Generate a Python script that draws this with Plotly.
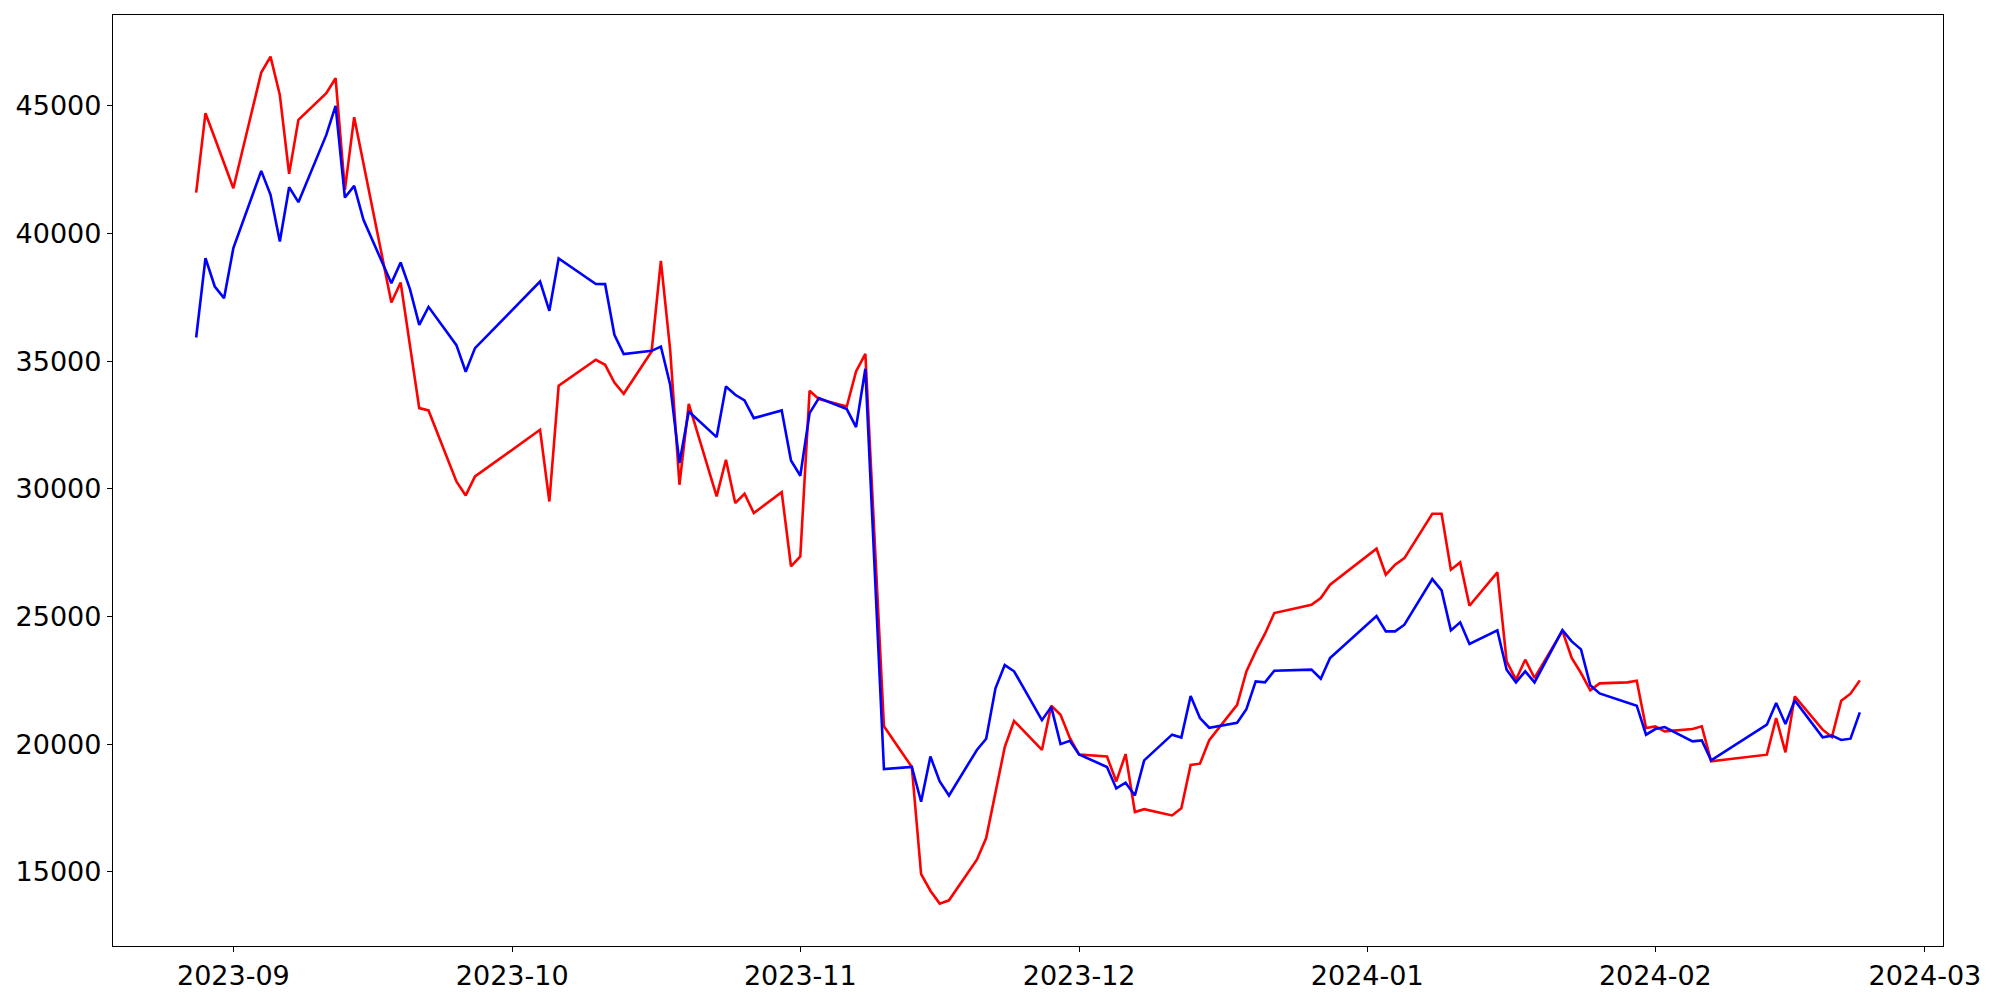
import plotly.graph_objects as go

dates = [
    "2023-08-28", "2023-08-29", "2023-08-30", "2023-08-31", "2023-09-01",
    "2023-09-04", "2023-09-05", "2023-09-06", "2023-09-07", "2023-09-08",
    "2023-09-11", "2023-09-12", "2023-09-13", "2023-09-14", "2023-09-15",
    "2023-09-18", "2023-09-19", "2023-09-20", "2023-09-21", "2023-09-22",
    "2023-09-25", "2023-09-26", "2023-09-27",
    "2023-10-04", "2023-10-05", "2023-10-06",
    "2023-10-10", "2023-10-11", "2023-10-12", "2023-10-13",
    "2023-10-16", "2023-10-17", "2023-10-18", "2023-10-19", "2023-10-20",
    "2023-10-23", "2023-10-24", "2023-10-25", "2023-10-26", "2023-10-27",
    "2023-10-30", "2023-10-31", "2023-11-01", "2023-11-02", "2023-11-03",
    "2023-11-06", "2023-11-07", "2023-11-08", "2023-11-10",
    "2023-11-13", "2023-11-14", "2023-11-15", "2023-11-16", "2023-11-17",
    "2023-11-20", "2023-11-21", "2023-11-22", "2023-11-23", "2023-11-24",
    "2023-11-27", "2023-11-28", "2023-11-29", "2023-11-30", "2023-12-01",
    "2023-12-04", "2023-12-05", "2023-12-06", "2023-12-07", "2023-12-08",
    "2023-12-11", "2023-12-12", "2023-12-13", "2023-12-14", "2023-12-15",
    "2023-12-18", "2023-12-19", "2023-12-20", "2023-12-21", "2023-12-22",
    "2023-12-26", "2023-12-27", "2023-12-28",
    "2024-01-02", "2024-01-03", "2024-01-04", "2024-01-05",
    "2024-01-08", "2024-01-09", "2024-01-10", "2024-01-11", "2024-01-12",
    "2024-01-15", "2024-01-16", "2024-01-17", "2024-01-18", "2024-01-19",
    "2024-01-22", "2024-01-23", "2024-01-24", "2024-01-25", "2024-01-26",
    "2024-01-29", "2024-01-30", "2024-01-31", "2024-02-01", "2024-02-02",
    "2024-02-05", "2024-02-06", "2024-02-07",
    "2024-02-13", "2024-02-14", "2024-02-15", "2024-02-16",
    "2024-02-19", "2024-02-20", "2024-02-21", "2024-02-22", "2024-02-23",
]

red_values = [
    41606, 44714, 43740, 42760, 41777,
    46304, 46931, 45431, 42338, 44452,
    45497, 46084, 41711, 44557, 42742,
    37300, 38083, 35710, 33164, 33072,
    30292, 29744, 30487,
    32315, 29508, 34038,
    35056, 34860, 34168, 33725,
    35381, 38932, 35447, 30162, 33333,
    29705, 31141, 29445, 29810, 29054,
    29875, 26964, 27356, 33842, 33517,
    33228, 34598, 35291, 20700,
    19110, 14910, 14263, 13758, 13888,
    15477, 16323, 18104, 19889, 20911,
    19776, 21510, 21154, 20245, 19596,
    19518, 18543, 19615, 17344, 17458,
    17211, 17489, 19192, 19239, 20158,
    21540, 22855, 23637, 24329, 25138,
    25464, 25725, 26247,
    27657, 26639, 27030, 27291,
    29027, 29027, 26835, 27122, 25425,
    26730, 23246, 22528, 23311, 22593,
    24440, 23376, 22789, 22110, 22385,
    22423, 22488, 20635, 20700, 20505,
    20596, 20700, 19330,
    19591, 21027, 19683, 21875,
    20570, 20283, 21705, 21979, 22501,
]

blue_values = [
    35929, 39037, 37926, 37471, 39429,
    42455, 41516, 39689, 41817, 41230,
    43865, 45000, 41411, 41868, 40537,
    38058, 38866, 37823, 36426, 37130,
    35630, 34586, 35514,
    38123, 36974, 39022,
    38025, 38019, 36035, 35279,
    35408, 35576, 34077, 31011, 33032,
    32029, 34011, 33686, 33463, 32773,
    33072, 31115, 30515, 32969, 33556,
    33126, 32421, 34704, 19027,
    19110, 17748, 19518, 18543, 17991,
    19776, 20214, 22192, 23100, 22857,
    20942, 21463, 20003, 20132, 19596,
    19110, 18268, 18496, 17991, 19369,
    20375, 20261, 21886, 21025, 20645,
    20838, 21370, 22462, 22424, 22880,
    22920, 22567, 23376,
    25021, 24420, 24420, 24681,
    26469, 26025, 24459, 24773, 23924,
    24459, 22920, 22424, 22854, 22424,
    24470, 24029, 23715, 22310, 21990,
    21634, 21509, 20374, 20596, 20674,
    20113, 20152, 19370,
    20766, 21614, 20792, 21718,
    20270, 20335, 20165, 20218, 21249,
]

x_tick_vals = ["2023-09-01", "2023-10-01", "2023-11-01", "2023-12-01",
               "2024-01-01", "2024-02-01", "2024-03-01"]
x_tick_text = ["2023-09", "2023-10", "2023-11", "2023-12",
               "2024-01", "2024-02", "2024-03"]
y_tick_vals = [15000, 20000, 25000, 30000, 35000, 40000, 45000]

fig = go.Figure()
fig.add_trace(go.Scatter(x=dates, y=red_values, mode="lines",
                         line=dict(color="#ff0000", width=2.6), showlegend=False))
fig.add_trace(go.Scatter(x=dates, y=blue_values, mode="lines",
                         line=dict(color="#0000ff", width=2.6), showlegend=False))

axis_common = dict(
    showgrid=False, zeroline=False, showline=True, mirror=True,
    linecolor="black", linewidth=1.3, ticks="outside", ticklen=5,
    tickwidth=1.3, tickcolor="black",
    tickfont=dict(family="DejaVu Sans", size=27, color="black"),
)

fig.update_layout(
    width=2000, height=1000,
    margin=dict(l=105, r=65, t=7, b=62, pad=0),
    plot_bgcolor="white", paper_bgcolor="white",
    xaxis=dict(type="date", range=["2023-08-19 01:12", "2024-03-02 22:48"],
               tickmode="array", tickvals=x_tick_vals, ticktext=x_tick_text,
               **axis_common),
    yaxis=dict(range=[12098, 48560], tickmode="array", tickvals=y_tick_vals,
               ticktext=[str(v) for v in y_tick_vals], **axis_common),
)

fig.write_html("out.html")
